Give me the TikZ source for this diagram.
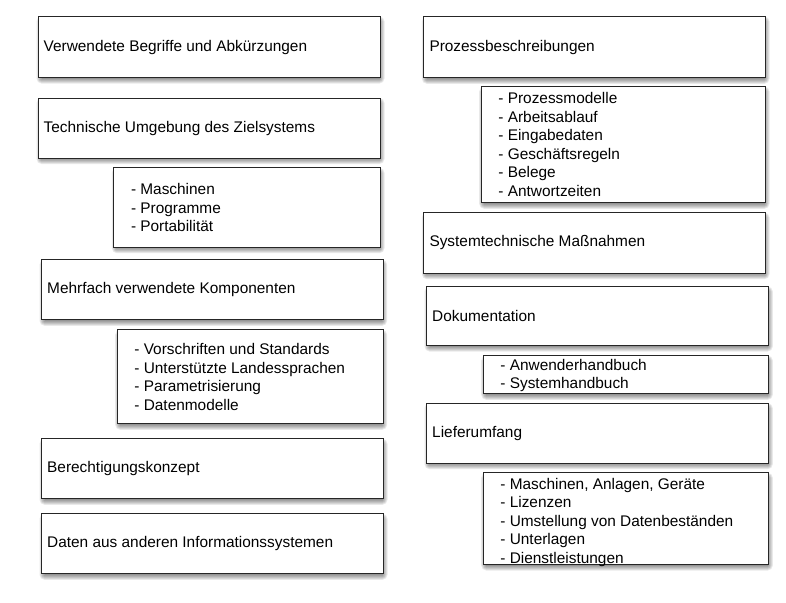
\documentclass[tikz,border=0pt]{standalone}
\usepackage{fontspec}
\setmainfont{Liberation Sans}
\tikzset{
  box/.style={draw=black!85, line width=1.1pt, fill=white, anchor=north west,
              rectangle, inner sep=0pt},
  lbl/.style={anchor=west, inner sep=0pt, align=left,
              font=\fontsize{15.4}{18.5}\selectfont},
  shd/.style={fill=black, opacity=0.085},
}
\newcommand{\mybox}[8]{% name, x, y, w, h, inset, text, text yshift
  \foreach \r in {0,1,...,5}{
    \fill[shd, rounded corners=\r pt] ({#2+1.5+2-\r},{#3+3.5+2-\r}) rectangle ({#2+#4+1.5-2+\r},{#3+#5+3.5-2+\r});
  }
  \node[box, minimum width=#4pt, minimum height=#5pt] (#1) at (#2,#3) {};
  \node[lbl] (#1t) at ([xshift=#6pt, yshift=#8pt]#1.west) {#7};
}
\begin{document}
\begin{tikzpicture}[x=1pt,y=-1pt]
\useasboundingbox (0,0) rectangle (786,602);
% left column
\mybox{l1}{38}{16}{342}{61}{5.5}{Verwendete Begriffe und Abkürzungen}{0}
\mybox{l2}{38}{97.5}{342}{60}{5.5}{Technische Umgebung des Zielsystems}{0}
\mybox{l3}{113.3}{167.3}{266.7}{79.4}{17.5}{- Maschinen\\- Programme\\- Portabilität}{0}
\mybox{l4}{41}{259.3}{341.7}{60}{6}{Mehrfach verwendete Komponenten}{0}
\mybox{l5}{116.7}{329.3}{266}{94}{17.5}{- Vorschriften und Standards\\- Unterstützte Landessprachen\\- Parametrisierung\\- Datenmodelle}{0}
\mybox{l6}{41}{438.3}{342}{60}{6}{Berechtigungskonzept}{0}
\mybox{l7}{41}{513.3}{342}{60}{6}{Daten aus anderen Informationssystemen}{0}
% right column
\mybox{r1}{423.3}{16}{341.7}{61.3}{6}{Prozessbeschreibungen}{0}
\mybox{r2}{480.7}{86}{284.3}{116.3}{17.5}{- Prozessmodelle\\- Arbeitsablauf\\- Eingabedaten\\- Geschäftsregeln\\- Belege\\- Antwortzeiten}{0}
\mybox{r3}{423.3}{212}{341.7}{60.7}{6}{Systemtechnische Maßnahmen}{0}
\mybox{r4}{426}{286}{342.3}{59}{6}{Dokumentation}{0}
\mybox{r5}{482.7}{355}{285.6}{38.3}{17.5}{- Anwenderhandbuch\\- Systemhandbuch}{-1}
\mybox{r6}{426}{402.7}{342.3}{60}{6}{Lieferumfang}{0}
\mybox{r7}{482.7}{472.3}{285.6}{91.7}{17.5}{- Maschinen, Anlagen, Geräte\\- Lizenzen\\- Umstellung von Datenbeständen\\- Unterlagen\\- Dienstleistungen}{-3.5}
\end{tikzpicture}
\end{document}
